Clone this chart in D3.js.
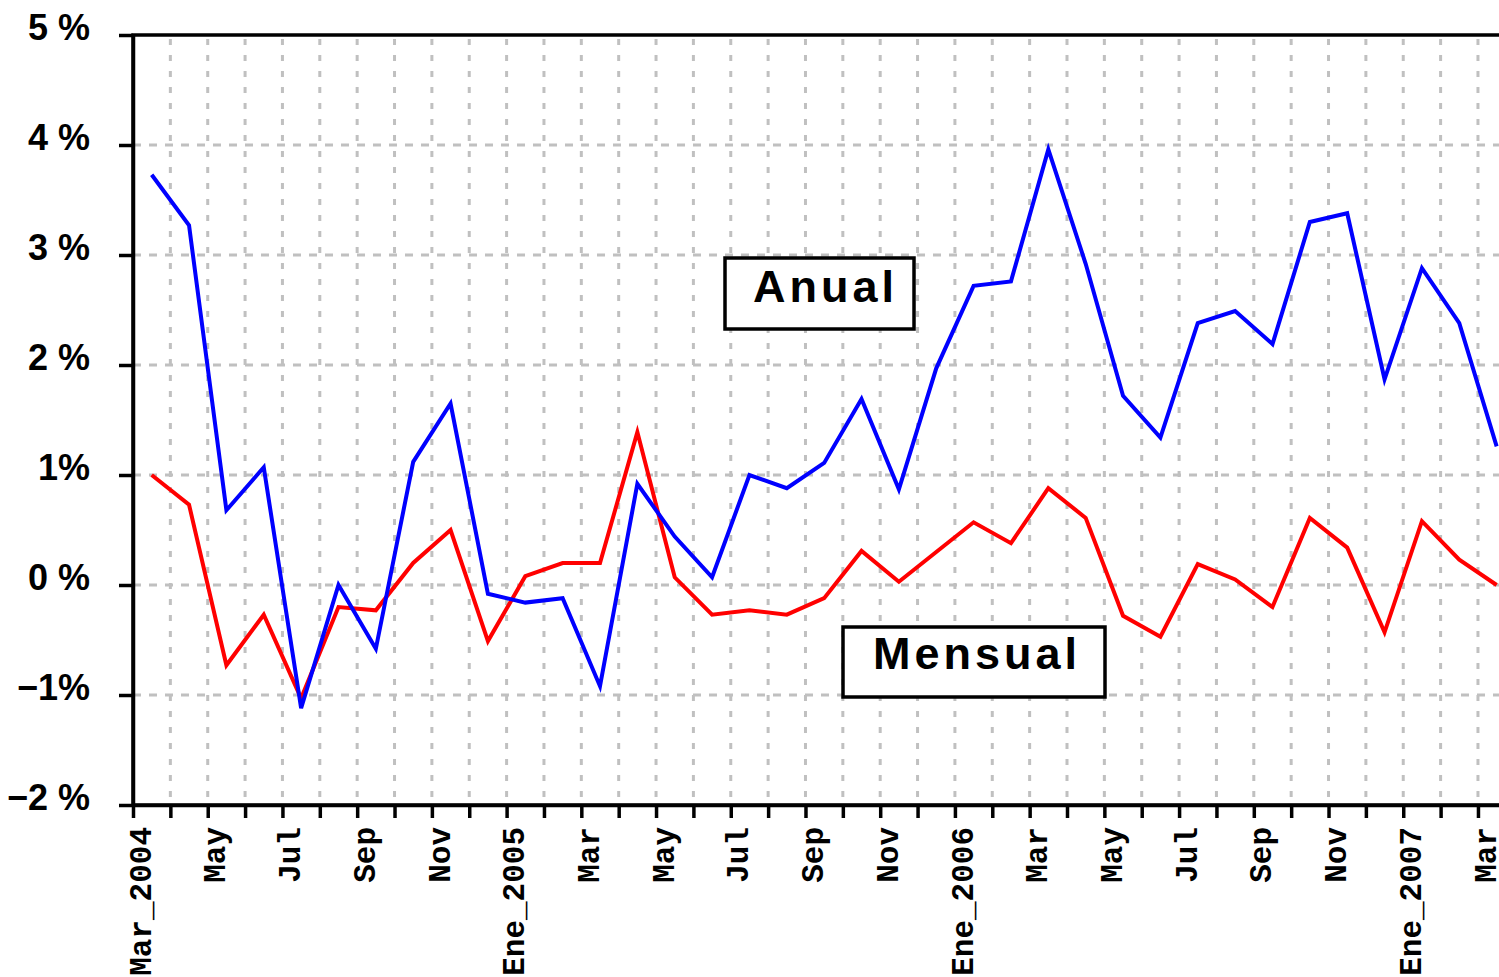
<!DOCTYPE html>
<html>
    <head>
        <meta charset="utf-8" />
        <title>Anual y Mensual</title>
        <style>
            body { margin: 0; background: #fff; }
        </style>
    </head>
    <body>
    <script src="https://cdnjs.cloudflare.com/ajax/libs/d3/7.8.5/d3.min.js"></script>
    <script>
        var width = 1499,
            height = 977;

        // datos
        var meses = ['Mar_2004','Abr','May','Jun','Jul','Ago','Sep','Oct','Nov','Dic',
                     'Ene_2005','Feb','Mar','Abr','May','Jun','Jul','Ago','Sep','Oct','Nov','Dic',
                     'Ene_2006','Feb','Mar','Abr','May','Jun','Jul','Ago','Sep','Oct','Nov','Dic',
                     'Ene_2007','Feb','Mar'];
        var anual = [3.73,3.27,0.68,1.07,-1.12,0.00,-0.58,1.12,1.65,-0.08,-0.16,-0.12,-0.92,
                     0.92,0.44,0.07,1.00,0.88,1.11,1.69,0.87,1.97,2.72,2.76,3.96,2.92,1.72,
                     1.34,2.38,2.49,2.19,3.30,3.38,1.87,2.88,2.38,1.26];
        var mensual = [1.00,0.73,-0.73,-0.27,-1.03,-0.20,-0.23,0.20,0.50,-0.51,0.08,0.20,0.20,
                       1.39,0.07,-0.27,-0.23,-0.27,-0.12,0.31,0.03,0.30,0.57,0.38,0.88,0.61,
                       -0.28,-0.47,0.19,0.05,-0.20,0.61,0.34,-0.43,0.58,0.23,0.00];
        var yTicks = [-2,-1,0,1,2,3,4,5];
        var yTickLabels = ['\u22122 %','\u22121%','0 %','1%','2 %','3 %','4 %','5 %'];

        var svg = d3.select('body').append('svg')
                    .attr('width', width)
                    .attr('height', height);

        // plot area runs past the right edge of the picture (cropped)
        var pLeft = 133, pTop = 35, pBottom = 805,
            step = 37.36,
            pRight = pLeft + meses.length * step;

        var x = d3.scaleLinear()
            .domain([0, meses.length])
            .range([pLeft, pRight]);

        var y = d3.scaleLinear()
            .domain([-2, 5])
            .range([pBottom, pTop]);

        // grid
        svg.append('g')
            .selectAll('line')
            .data(d3.range(1, meses.length))
          .enter().append('line')
            .attr('x1', function(d){ return x(d); })
            .attr('x2', function(d){ return x(d); })
            .attr('y1', pTop + 4)
            .attr('y2', pBottom)
            .attr('stroke', '#c0c0c0')
            .attr('stroke-width', 3)
            .attr('stroke-dasharray', '6,10');

        svg.append('g')
            .selectAll('line')
            .data(yTicks.slice(1, -1))
          .enter().append('line')
            .attr('x1', pLeft)
            .attr('x2', width)
            .attr('y1', function(d){ return y(d); })
            .attr('y2', function(d){ return y(d); })
            .attr('stroke', '#c0c0c0')
            .attr('stroke-width', 3)
            .attr('stroke-dasharray', '8,8');

        // frame
        svg.append('rect')
            .attr('x', pLeft)
            .attr('y', pTop)
            .attr('width', pRight - pLeft)
            .attr('height', pBottom - pTop)
            .attr('fill', 'none')
            .attr('stroke', '#000')
            .attr('stroke-width', 3.5);

        // y axis
        var yAxis = d3.axisLeft(y)
            .tickValues(yTicks)
            .tickSize(14)
            .tickSizeOuter(0)
            .tickPadding(29)
            .tickFormat(function(d, i){ return yTickLabels[i]; });

        var gy = svg.append('g')
            .attr('transform', 'translate(' + pLeft + ',0)')
            .call(yAxis);
        gy.select('.domain').attr('stroke-width', 3.5);
        gy.selectAll('.tick line').attr('stroke-width', 3.5);
        gy.selectAll('.tick text')
            .attr('dy', 4)
            .attr('font-family', '"Liberation Sans", Arial, sans-serif')
            .attr('font-weight', 'bold')
            .attr('font-size', 36)
            .attr('fill', '#000');

        // x axis
        var xAxis = d3.axisBottom(x)
            .tickValues(d3.range(0, meses.length + 1))
            .tickSize(13)
            .tickSizeOuter(0)
            .tickFormat('');

        var gx = svg.append('g')
            .attr('transform', 'translate(0,' + pBottom + ')')
            .call(xAxis);
        gx.select('.domain').attr('stroke-width', 3.5);
        gx.selectAll('.tick line').attr('stroke-width', 3.5);

        // every other month is labelled
        var etiquetas = meses.map(function(m, i){ return {m: m, i: i}; })
                             .filter(function(d){ return d.i % 2 == 0; });

        svg.selectAll('.mes')
            .data(etiquetas)
          .enter().append('text')
            .attr('class', 'mes')
            .attr('transform', function(d){ return 'translate(' + (x(d.i + 0.5) - 1) + ',827) rotate(-90)'; })
            .attr('text-anchor', 'end')
            .attr('font-family', '"Liberation Mono", "Courier New", monospace')
            .attr('font-weight', 'bold')
            .attr('font-size', 31)
            .text(function(d){ return d.m; });

        // series
        var line = d3.line()
            .x(function(d, i){ return x(i + 0.5); })
            .y(function(d){ return y(d); });

        svg.append('path')
            .datum(mensual)
            .attr('d', line)
            .attr('fill', 'none')
            .attr('stroke', '#ff0000')
            .attr('stroke-width', 4);

        svg.append('path')
            .datum(anual)
            .attr('d', line)
            .attr('fill', 'none')
            .attr('stroke', '#0000ff')
            .attr('stroke-width', 4);

        // labels in boxes
        function caja(x0, y0, w, h, tx, ty, txt){
            svg.append('rect')
                .attr('x', x0).attr('y', y0)
                .attr('width', w).attr('height', h)
                .attr('fill', '#fff')
                .attr('stroke', '#000')
                .attr('stroke-width', 3.5);
            svg.append('text')
                .attr('x', tx).attr('y', ty)
                .attr('font-family', '"Liberation Sans", Arial, sans-serif')
                .attr('font-weight', 'bold')
                .attr('font-size', 45)
                .attr('letter-spacing', 4)
                .text(txt);
        }
        caja(725, 258, 189, 71, 753, 302, 'Anual');
        caja(843, 627, 262, 70, 873, 669, 'Mensual');
    </script>
    </body>
</html>
